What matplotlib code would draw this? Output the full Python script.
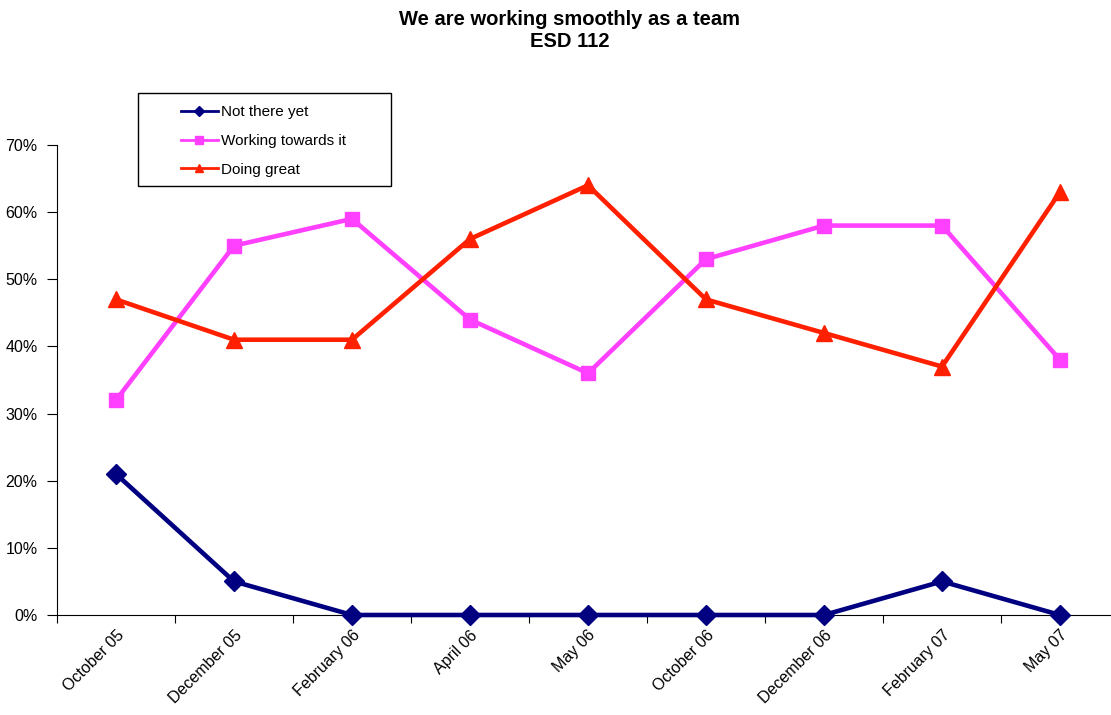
import matplotlib
matplotlib.use('Agg')
from matplotlib import pyplot as plt
from matplotlib.ticker import PercentFormatter
from matplotlib.patches import Rectangle
import numpy as np

plt.rcParams['font.family'] = ['Liberation Sans', 'DejaVu Sans']

categories = ['October 05', 'December 05', 'February 06', 'April 06', 'May 06',
              'October 06', 'December 06', 'February 07', 'May 07']
not_there = [21, 5, 0, 0, 0, 0, 0, 5, 0]
working = [32, 55, 59, 44, 36, 53, 58, 58, 38]
doing_great = [47, 41, 41, 56, 64, 47, 42, 37, 63]

fig = plt.figure(figsize=(11.11, 7.15), dpi=100)
ax = fig.add_axes([57 / 1111, 100 / 715, 1062 / 1111, 470 / 715])

x = np.arange(len(categories))
ax.plot(x, np.array(not_there) / 100, color='#000080', lw=3.3, marker='D', ms=10,
        label='Not there yet', clip_on=False, zorder=3)
ax.plot(x, np.array(working) / 100, color='#FF40FF', lw=3.3, marker='s', ms=10.5,
        label='Working towards it', clip_on=False, zorder=3)
ax.plot(x, np.array(doing_great) / 100, color='#FF2000', lw=3.3, marker='^', ms=11,
        label='Doing great', clip_on=False, zorder=3)

ax.set_xlim(-0.5, len(categories) - 0.5)
ax.set_ylim(0, 0.7)
ax.set_yticks(np.arange(0, 0.71, 0.1))
ax.yaxis.set_major_formatter(PercentFormatter(1.0, decimals=0))
ax.set_xticks(np.arange(-0.5, len(categories), 1.0))
ax.set_xticklabels([])
ax.set_xticks(x, minor=True)
ax.set_xticklabels(categories, minor=True, rotation=45, ha='right',
                   rotation_mode='anchor', fontsize=11.5)
ax.tick_params(axis='x', which='minor', length=0, pad=9)
ax.tick_params(axis='x', which='major', length=6, direction='out')
ax.tick_params(axis='y', length=7, direction='out', labelsize=11.5, pad=7)
for s in ['top', 'right']:
    ax.spines[s].set_visible(False)

fig.text(0.513, 0.986, 'We are working smoothly as a team\nESD 112',
         ha='center', va='top', fontsize=14.5, fontweight='bold', linespacing=1.2)

# legend frame drawn separately (Excel style wide box)
fig.patches.append(Rectangle((138 / 1111, 1 - 186 / 715), 253 / 1111, 93 / 715,
                             transform=fig.transFigure, fill=False,
                             edgecolor='black', lw=1.0))
leg = ax.legend(loc='center left', bbox_to_anchor=(181 / 1111, 1 - 141 / 715),
                bbox_transform=fig.transFigure, fontsize=11, markerscale=0.55,
                handlelength=2.4, frameon=False, borderpad=0, labelspacing=0.95,
                handletextpad=0.2, borderaxespad=0)
for h in leg.get_lines():
    h.set_linewidth(2)

fig.savefig('out.png', dpi=100)
